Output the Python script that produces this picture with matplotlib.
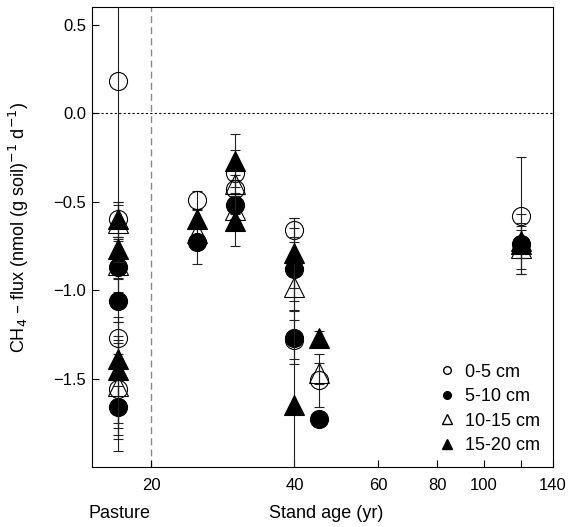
import numpy as np
import matplotlib
matplotlib.use("Agg")
import matplotlib.pyplot as plt
from matplotlib.lines import Line2D
from matplotlib.ticker import FixedLocator, FixedFormatter, NullLocator

plt.rcParams['font.family'] = ['Liberation Sans', 'DejaVu Sans']

# stand age (pasture plotted at 17)
x_d1 = [17, 17, 17, 17, 25, 30, 30, 40, 40, 45, 120]
y_d1 = [0.18, -0.60, -1.27, -1.56, -0.49, -0.34, -0.43, -0.66, -1.28, -1.51, -0.58]
e_d1 = [2.09, 0.10, 0.09, 0.28, 0.05, 0.13, 0.05, 0.07, 0.11, 0.15, 0.33]

x_d2 = [17, 17, 17, 25, 30, 40, 40, 45, 120]
y_d2 = [-0.87, -1.06, -1.66, -0.73, -0.52, -0.88, -1.27, -1.73, -0.74]
e_d2 = [0.06, 0.12, 0.12, 0.12, 0.05, 0.18, 0.15, 0.02, 0.17]

x_d3 = [17, 17, 17, 25, 30, 30, 40, 45, 120]
y_d3 = [-0.62, -0.86, -1.54, -0.68, -0.40, -0.55, -0.98, -1.47, -0.76]
e_d3 = [0.10, 0.15, 0.28, 0.05, 0.05, 0.05, 0.13, 0.06, 0.12]

x_d4 = [17, 17, 17, 17, 25, 30, 30, 40, 40, 45, 120, 120]
y_d4 = [-0.60, -0.77, -1.39, -1.45, -0.60, -0.27, -0.61, -0.79, -1.65, -1.27, -0.72, -0.74]
e_d4 = [0.10, 0.07, 0.09, 0.30, 0.05, 0.15, 0.14, 0.20, 1.00, 0.04, 0.10, 0.08]

labels = ["0-5 cm", "5-10 cm", "10-15 cm", "15-20 cm"]
xticks = [20, 40, 60, 80, 100, 120, 140]
xticklabels = ["20", "40", "60", "80", "100", "", "140"]

fig = plt.figure(figsize=(5.74, 5.27), dpi=100)
ax = fig.add_axes([92/574, 1-467/527, 461/574, 460/527])

ax.set_xscale('log')

series = [(x_d1, y_d1, e_d1, 'o', 'none', 13),
          (x_d3, y_d3, e_d3, '^', 'none', 15),
          (x_d2, y_d2, e_d2, 'o', 'black', 13),
          (x_d4, y_d4, e_d4, '^', 'black', 15)]
for i, (xx, yy, ee, m, fc, ms) in enumerate(series):
    ax.errorbar(xx, yy, yerr=ee, fmt=m, mfc=fc, mec='black', mew=0.8, ms=ms,
                ecolor='#222222', elinewidth=0.8, capsize=3.5, capthick=0.8,
                zorder=3+i)

ax.axhline(0, color='black', lw=0.8, ls=(0, (2, 2)), zorder=1)
ax.axvline(20, color='#888888', lw=1.0, ls=(0, (5, 3)), zorder=1)

ax.set_xlim(15, 140)
ax.set_ylim(-2.0, 0.6)
ax.xaxis.set_major_locator(FixedLocator(xticks))
ax.xaxis.set_major_formatter(FixedFormatter(xticklabels))
ax.xaxis.set_minor_locator(NullLocator())
ax.set_yticks([0.5, 0.0, -0.5, -1.0, -1.5])
ax.tick_params(axis='both', direction='in', length=5, width=0.8, labelsize=12)
ax.tick_params(axis='x', pad=8)
ax.tick_params(axis='y', pad=4)
for s in ax.spines.values():
    s.set_linewidth(0.8)

ax.set_ylabel("CH$_4$ – flux (nmol (g soil)$^{-1}$ d$^{-1}$)", fontsize=13)
ax.yaxis.set_label_coords(-0.132, 0.52)

fig.text(120/574, 1-513/527, "Pasture", fontsize=13, ha='center', va='center')
fig.text(326/574, 1-513/527, "Stand age (yr)", fontsize=13, ha='center', va='center')

handles = [Line2D([], [], ls='none', marker='o', mfc='none', mec='black', ms=5.5),
           Line2D([], [], ls='none', marker='o', mfc='black', mec='black', ms=5.5),
           Line2D([], [], ls='none', marker='^', mfc='none', mec='black', ms=6.5),
           Line2D([], [], ls='none', marker='^', mfc='black', mec='black', ms=6.5)]
ax.legend(handles, labels, loc='lower right', frameon=False, fontsize=13,
          handlelength=0.8, handletextpad=0.6, labelspacing=0.42,
          borderaxespad=0.3)

fig.savefig("out.png", dpi=100)
